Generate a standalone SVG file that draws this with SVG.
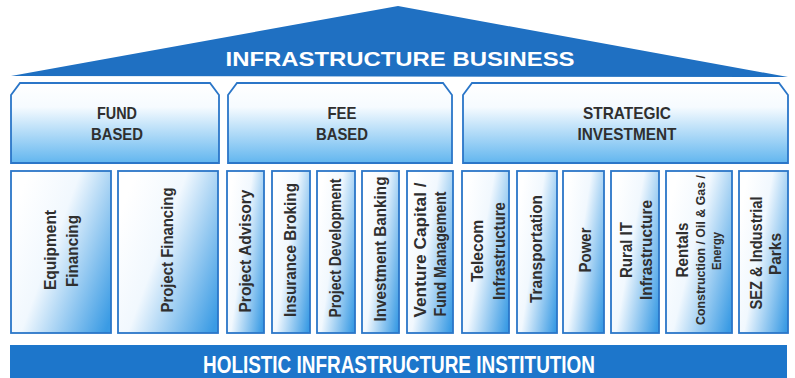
<svg xmlns="http://www.w3.org/2000/svg" width="795" height="378" viewBox="0 0 795 378">
<defs>
<linearGradient id="gCat" x1="0" y1="0" x2="0" y2="1">
<stop offset="0" stop-color="#ffffff"/>
<stop offset="0.3" stop-color="#f6fbff"/>
<stop offset="1" stop-color="#62b6ef"/>
</linearGradient>
<linearGradient id="gBox" x1="0" y1="0.3" x2="1" y2="0.9">
<stop offset="0" stop-color="#ffffff"/>
<stop offset="0.38" stop-color="#f1f8fe"/>
<stop offset="1" stop-color="#3a9be4"/>
</linearGradient>
<style>
.cat{fill:url(#gCat);stroke:#2b76c8;stroke-width:1.8}
.box{fill:url(#gBox);stroke:#2b76c8;stroke-width:1.8}
.ct{font-family:"Liberation Sans",Arial,sans-serif;font-weight:bold;font-size:17px;fill:#2f2f2f;text-anchor:middle}
.vt{font-family:"Liberation Sans",Arial,sans-serif;font-weight:bold;font-size:17px;fill:#2f2f2f;text-anchor:middle}
.vs{font-family:"Liberation Sans",Arial,sans-serif;font-weight:bold;font-size:13.5px;fill:#2f2f2f;text-anchor:middle}
.wt{font-family:"Liberation Sans",Arial,sans-serif;font-weight:bold;fill:#ffffff;text-anchor:middle}
</style>
</defs>
<rect width="795" height="378" fill="#ffffff"/>

<g id="roof">
<polygon points="11,76 398,6 788,77" fill="#1f70c2"/>
<text class="wt" x="400" y="66" font-size="21" textLength="349" lengthAdjust="spacingAndGlyphs">INFRASTRUCTURE BUSINESS</text>
</g>

<g id="fund-based">
<path class="cat" d="M11,163 V95 L20,83 H210 L219,95 V163 Z"/>
<text class="ct" x="117" y="119" textLength="40" lengthAdjust="spacingAndGlyphs">FUND</text>
<text class="ct" x="117" y="140" textLength="52" lengthAdjust="spacingAndGlyphs">BASED</text>
</g>
<g id="fee-based">
<path class="cat" d="M228,163 V95 L237,83 H443 L452,95 V163 Z"/>
<text class="ct" x="342" y="119" textLength="29" lengthAdjust="spacingAndGlyphs">FEE</text>
<text class="ct" x="342" y="140" textLength="52" lengthAdjust="spacingAndGlyphs">BASED</text>
</g>
<g id="strategic-investment">
<path class="cat" d="M463,163 V95 L472,83 H779 L788,95 V163 Z"/>
<text class="ct" x="627" y="119" textLength="88" lengthAdjust="spacingAndGlyphs">STRATEGIC</text>
<text class="ct" x="627" y="140" textLength="99" lengthAdjust="spacingAndGlyphs">INVESTMENT</text>
</g>

<g id="equipment-financing">
<rect class="box" x="11" y="171" width="100" height="162"/>
<text class="vt" transform="translate(56,250) rotate(-90)" textLength="80" lengthAdjust="spacingAndGlyphs">Equipment</text>
<text class="vt" transform="translate(78,251) rotate(-90)" textLength="72" lengthAdjust="spacingAndGlyphs">Financing</text>
</g>
<g id="project-financing">
<rect class="box" x="118" y="171" width="100" height="162"/>
<text class="vt" transform="translate(173,250) rotate(-90)" textLength="125" lengthAdjust="spacingAndGlyphs">Project Financing</text>
</g>
<g id="project-advisory">
<rect class="box" x="227" y="171" width="37" height="162"/>
<text class="vt" transform="translate(251,251) rotate(-90)" textLength="123" lengthAdjust="spacingAndGlyphs">Project Advisory</text>
</g>
<g id="insurance-broking">
<rect class="box" x="272" y="171" width="38" height="162"/>
<text class="vt" transform="translate(296,250) rotate(-90)" textLength="134" lengthAdjust="spacingAndGlyphs">Insurance Broking</text>
</g>
<g id="project-development">
<rect class="box" x="317" y="171" width="38" height="162"/>
<text class="vt" transform="translate(341,248) rotate(-90)" textLength="139" lengthAdjust="spacingAndGlyphs">Project Development</text>
</g>
<g id="investment-banking">
<rect class="box" x="362" y="171" width="37" height="162"/>
<text class="vt" transform="translate(386,249) rotate(-90)" textLength="145" lengthAdjust="spacingAndGlyphs">Investment Banking</text>
</g>
<g id="venture-capital">
<rect class="box" x="407" y="171" width="46" height="162"/>
<text class="vt" transform="translate(426,250) rotate(-90)" textLength="135" lengthAdjust="spacingAndGlyphs">Venture Capital /</text>
<text class="vt" transform="translate(446,254) rotate(-90)" textLength="125" lengthAdjust="spacingAndGlyphs">Fund Management</text>
</g>
<g id="telecom-infrastructure">
<rect class="box" x="462" y="171" width="47" height="162"/>
<text class="vt" transform="translate(483,251) rotate(-90)" textLength="62" lengthAdjust="spacingAndGlyphs">Telecom</text>
<text class="vt" transform="translate(505,251) rotate(-90)" textLength="98" lengthAdjust="spacingAndGlyphs">Infrastructure</text>
</g>
<g id="transportation">
<rect class="box" x="517" y="171" width="40" height="162"/>
<text class="vt" transform="translate(542,249) rotate(-90)" textLength="108" lengthAdjust="spacingAndGlyphs">Transportation</text>
</g>
<g id="power">
<rect class="box" x="563" y="171" width="41" height="162"/>
<text class="vt" transform="translate(591,250) rotate(-90)" textLength="45" lengthAdjust="spacingAndGlyphs">Power</text>
</g>
<g id="rural-it-infrastructure">
<rect class="box" x="611" y="171" width="48" height="162"/>
<text class="vt" transform="translate(632,250) rotate(-90)" textLength="56" lengthAdjust="spacingAndGlyphs">Rural IT</text>
<text class="vt" transform="translate(652,250) rotate(-90)" textLength="100" lengthAdjust="spacingAndGlyphs">Infrastructure</text>
</g>
<g id="rentals">
<rect class="box" x="666" y="171" width="66" height="162"/>
<text class="vt" transform="translate(688,250) rotate(-90)" textLength="55" lengthAdjust="spacingAndGlyphs">Rentals</text>
<text class="vs" transform="translate(705,250) rotate(-90)" textLength="150" lengthAdjust="spacingAndGlyphs">Construction / Oil &amp; Gas /</text>
<text class="vs" transform="translate(721,251) rotate(-90)" textLength="38" lengthAdjust="spacingAndGlyphs">Energy</text>
</g>
<g id="sez-industrial-parks">
<rect class="box" x="739" y="171" width="49" height="162"/>
<text class="vt" transform="translate(762,253) rotate(-90)" textLength="113" lengthAdjust="spacingAndGlyphs">SEZ &amp; Industrial</text>
<text class="vt" transform="translate(781,254) rotate(-90)" textLength="42" lengthAdjust="spacingAndGlyphs">Parks</text>
</g>

<g id="foundation">
<rect x="10" y="345" width="777" height="33" fill="#1d76cb"/>
<text class="wt" x="399" y="373" font-size="24.5" textLength="392" lengthAdjust="spacingAndGlyphs">HOLISTIC INFRASTRUCTURE INSTITUTION</text>
</g>
<g id="connectors"/>
</svg>
